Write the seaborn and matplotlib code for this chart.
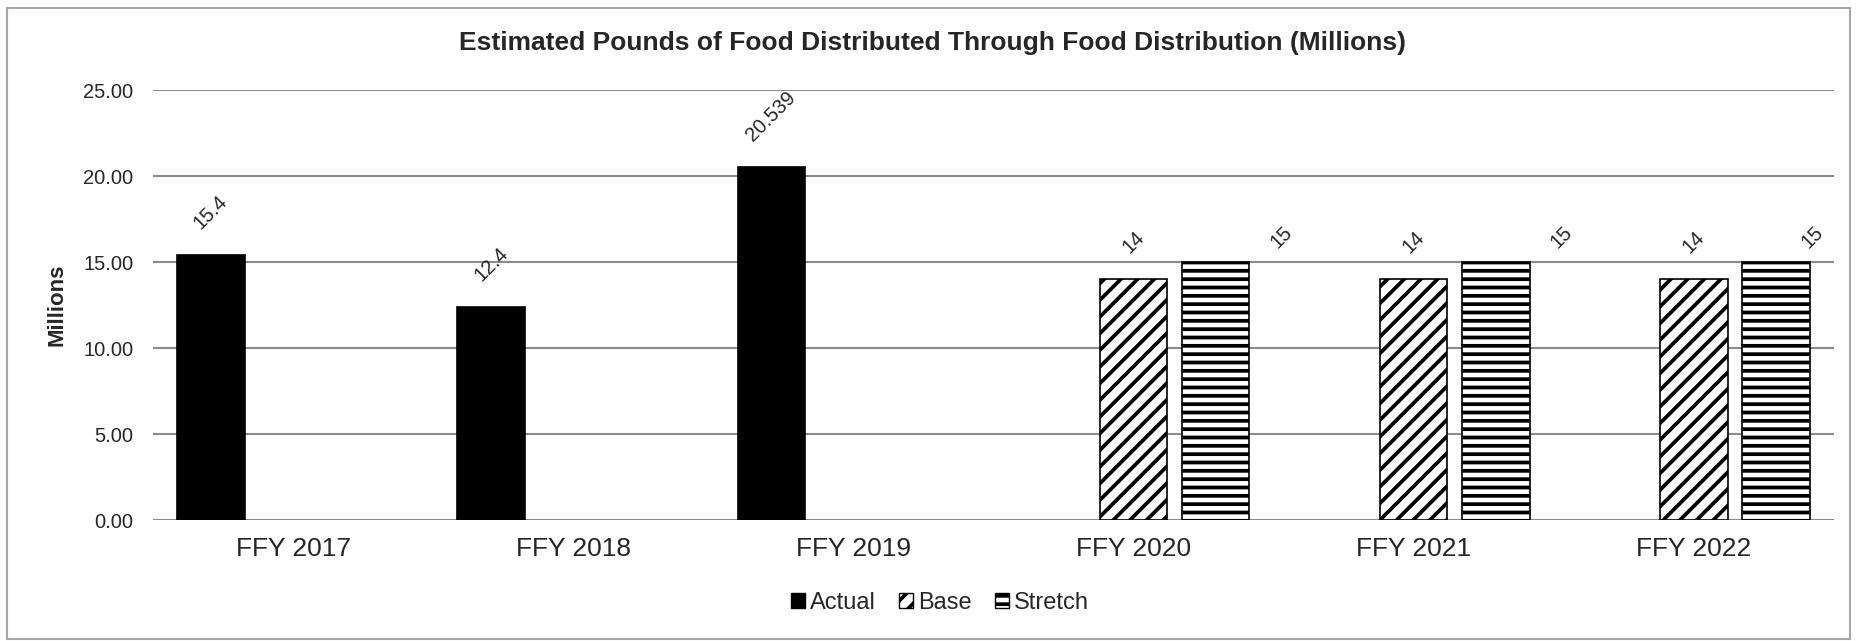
import matplotlib
matplotlib.use('Agg')
import matplotlib.pyplot as plt
import matplotlib.patches as mpatches
import numpy as np
import pandas as pd
import seaborn as sns

# ── data ──
categories = ['FFY 2017', 'FFY 2018', 'FFY 2019', 'FFY 2020', 'FFY 2021', 'FFY 2022']
series_names = ['Actual', 'Base', 'Stretch']
actual = [15.4, 12.4, 20.539, np.nan, np.nan, np.nan]
base = [np.nan, np.nan, np.nan, 14, 14, 14]
stretch = [np.nan, np.nan, np.nan, 15, 15, 15]
y_ticks = [0, 5, 10, 15, 20, 25]

title = 'Estimated Pounds of Food Distributed Through Food Distribution (Millions)'
y_label = 'Millions'

# long table for seaborn
rows = []
for name, vals in zip(series_names, [actual, base, stretch]):
    for cat, v in zip(categories, vals):
        if not np.isnan(v):
            rows.append({'year': cat, 'series': name, 'value': v})
df = pd.DataFrame(rows)

# ── style ──
sns.set_style('white')
plt.rcParams['font.family'] = ['Liberation Sans', 'DejaVu Sans']
plt.rcParams['hatch.linewidth'] = 2.7
grid_col = '#8c8c8c'

fig = plt.figure(figsize=(18.65, 6.41), dpi=100)
ax = fig.add_axes([153 / 1865, 1 - 520 / 641, (1834 - 153) / 1865, (520 - 90) / 641])

sns.barplot(
    data=df, x='year', y='value', hue='series',
    order=categories, hue_order=series_names,
    palette={'Actual': 'black', 'Base': 'white', 'Stretch': 'white'},
    edgecolor='black', linewidth=1.2, width=0.88, gap=0.18,
    dodge=True, legend=False, ax=ax,
)

hatches = {'Actual': '', 'Base': '//', 'Stretch': '--'}
for cont, name in zip(ax.containers, series_names):
    for bar in cont:
        bar.set_hatch(hatches[name])

# data labels (Stretch labels sit shifted right in the original)
label_offsets = {
    'Actual': [(0, 16)] * 6,
    'Base': [(0, 16)] * 6,
    'Stretch': [(0, 0), (0, 0), (0, 0), (47, 7), (47, 7), (26, 7)],
}
for cont, name, vals in zip(ax.containers, series_names, [actual, base, stretch]):
    present = [i for i, v in enumerate(vals) if not np.isnan(v)]
    for bar, i in zip(cont, present):
        h = bar.get_height()
        if np.isnan(h):
            continue
        dx, dy = label_offsets[name][i]
        ax.annotate(f'{vals[i]:g}', (bar.get_x() + bar.get_width() / 2, h),
                    xytext=(dx, dy), textcoords='offset points',
                    ha='center', va='bottom', rotation=45, fontsize=14.5)

ax.set_ylim(0, 25)
ax.set_xlim(-0.5, len(categories) - 0.5)
ax.set_yticks(y_ticks)
ax.set_yticklabels([f'{t:.2f}' for t in y_ticks])
ax.yaxis.grid(True, color=grid_col, linewidth=1.5)
ax.set_axisbelow(True)
for s in ax.spines.values():
    s.set_visible(False)
ax.tick_params(axis='y', length=0, pad=14, labelsize=14.5)
ax.tick_params(axis='x', length=0, pad=12, labelsize=19)
ax.set_xlabel('')
ax.set_ylabel('')

fig.text(57 / 1865, 1 - 305 / 641, y_label, rotation=90, ha='center', va='center',
         fontsize=16, fontweight='bold')
fig.text(0.5, 1 - 43 / 641, title, ha='center', va='center',
         fontsize=19, fontweight='bold')

handles = [
    mpatches.Patch(facecolor='black', edgecolor='black', label='Actual'),
    mpatches.Patch(facecolor='white', edgecolor='black', hatch='//', label='Base'),
    mpatches.Patch(facecolor='white', edgecolor='black', hatch='--', label='Stretch'),
]
fig.legend(handles=handles, loc='center', bbox_to_anchor=(940 / 1865, 1 - 603 / 641),
           ncol=3, frameon=False, fontsize=17, handlelength=0.6, handleheight=0.6,
           handletextpad=0.2, columnspacing=1.0)

# chart border
fig.patches.append(mpatches.Rectangle((7 / 1865, 2 / 641), (1850 - 7) / 1865, (633 - 2) / 641,
                                      transform=fig.transFigure, fill=False,
                                      edgecolor='#a6a6a6', linewidth=1.5))

fig.savefig('out.png', dpi=100, facecolor='white')
plt.close(fig)
